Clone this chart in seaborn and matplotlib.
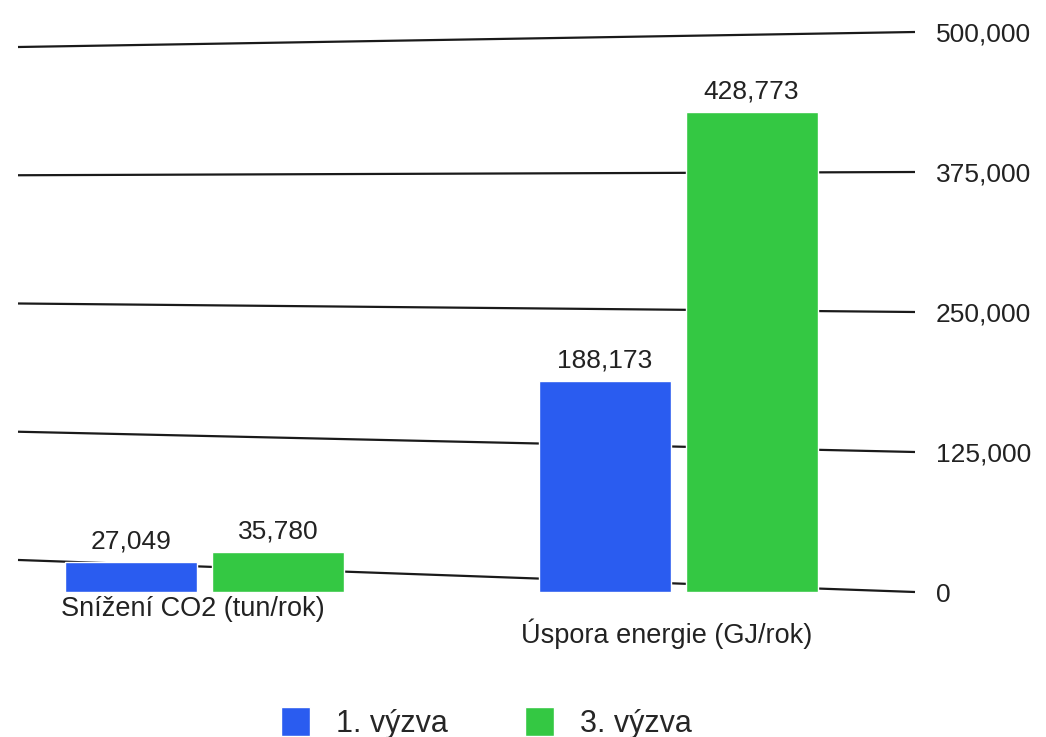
import matplotlib
matplotlib.use("Agg")
import matplotlib.pyplot as plt
import seaborn as sns
import pandas as pd

categories = ["Snížení CO2 (tun/rok)", "Úspora energie (GJ/rok)"]
series = ["1. výzva", "3. výzva"]
vyzva_1 = [27049, 188173]
vyzva_3 = [35780, 428773]
y_ticks = [0, 125000, 250000, 375000, 500000]

df = pd.DataFrame({
    "kategorie": categories * 2,
    "vyzva": [series[0]] * 2 + [series[1]] * 2,
    "hodnota": vyzva_1 + vyzva_3,
})

sns.set_theme(style="white")
plt.rcParams["font.family"] = ["Liberation Sans", "DejaVu Sans"]

fig = plt.figure(figsize=(10.46, 7.37), dpi=100)
# axes box: x 18..915 px, y 32..592 px
ax = fig.add_axes([18 / 1046, 1 - 592 / 737, (915 - 18) / 1046, (592 - 32) / 737])

sns.barplot(data=df, x="kategorie", y="hodnota", hue="vyzva",
            palette=["#2a5cf0", "#34c843"], width=0.62, gap=0.1,
            saturation=1, ax=ax, zorder=2)

ax.set_xlim(-0.394, 1.5)
ax.set_ylim(0, 500000)

# tilted (perspective) grid lines behind the bars
x0, x1 = ax.get_xlim()
for v in y_ticks:
    ax.plot([x0, x1], [28600 + 0.916 * v, v], color="#1a1a1a", lw=1.6,
            zorder=1, clip_on=False, solid_capstyle="butt")

for cont in ax.containers:
    ax.bar_label(cont, fmt="{:,.0f}", padding=6, fontsize=19, color="#222222")

ax.yaxis.tick_right()
ax.set_yticks(y_ticks)
ax.set_yticklabels([f"{v:,}" for v in y_ticks], fontsize=19, color="#222222")
ax.tick_params(axis="y", length=0, pad=15)
ax.set_xticks([])
ax.set_xlabel("")
ax.set_ylabel("")
sns.despine(ax=ax, left=True, right=True, top=True, bottom=True)

# category labels, shifted a bit because of the perspective
for i, (cat, dy) in enumerate(zip(categories, [-0.008, -0.048])):
    ax.text(i - 0.025, dy, cat, transform=ax.get_xaxis_transform(),
            ha="center", va="top", fontsize=19.5, color="#222222")

handles, labels = ax.get_legend_handles_labels()
if ax.get_legend() is not None:
    ax.get_legend().remove()
fig.legend(handles, labels, loc="lower center", bbox_to_anchor=(0.465, -0.04),
           ncol=2, frameon=False, fontsize=22, handlelength=0.95, handleheight=1.1,
           handletextpad=0.85, columnspacing=2.5)

fig.savefig("out.png", dpi=100)
